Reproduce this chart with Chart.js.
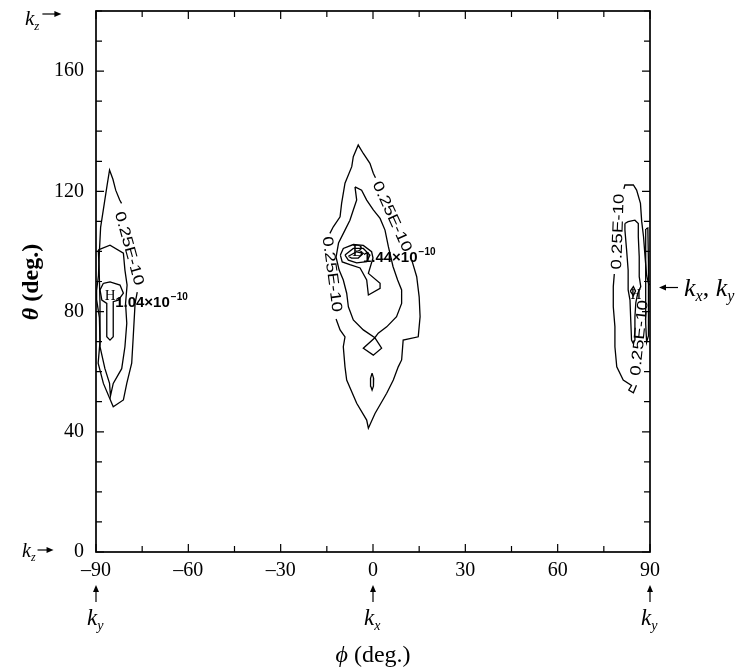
<!DOCTYPE html>
<html>
<head>
<meta charset="utf-8">
<script src="https://cdn.jsdelivr.net/npm/chart.js@4"></script>
<style>
  html, body { margin: 0; padding: 0; background: #fff; }
  canvas { display: block; }
</style>
</head>
<body>
<canvas id="myChart" width="743" height="671"></canvas>
<script>
const ctx = document.getElementById('myChart')

// axis ticks (phi across, theta up)
const phiTicks = [-90, -75, -60, -45, -30, -15, 0, 15, 30, 45, 60, 75, 90]
const phiLabels = ['–90', '', '–60', '', '–30', '', '0', '', '30', '', '60', '', '90']
const thetaTicks = [0, 10, 20, 30, 40, 50, 60, 70, 80, 90, 100, 110, 120, 130, 140, 150, 160, 170, 180]
const thetaLabels = ['0', '', '', '', '40', '', '', '', '80', '', '', '', '120', '', '', '', '160', '', '']

// contour lines, [phi, theta] pairs
const leftOuter = [[-76.6, 86.5], [-77.3, 82.7], [-77.9, 71.6], [-78.4, 62.8], [-80.0, 56.1], [-81.1, 50.6], [-84.4, 48.3],
  [-87.6, 56.1], [-89.3, 62.8], [-88.7, 70], [-88.9, 78], [-89.8, 84], [-89.8, 87], [-89.2, 92], [-88.9, 100],
  [-88.5, 108], [-87.3, 116], [-86.4, 122], [-85.6, 127.1], [-84.5, 124], [-83.6, 120.4], [-82.3, 117.1], [-81.7, 116.0]]
const leftMid = [[-89.25, 100.5], [-85.45, 102.1], [-81.1, 99.4], [-80.6, 93.8], [-79.9, 88.8], [-80.4, 82.7], [-80.0, 76.1],
  [-80.6, 68.3], [-81.65, 61.0], [-84.4, 56.1], [-85.3, 51.9], [-85.6, 56.1], [-87.1, 61.0], [-88.7, 68.3], [-88.7, 82.7],
  [-89.0, 95.0], [-89.25, 100.5]]
const leftCore = [[-87.6, 89.4], [-85.45, 89.9], [-82.2, 88.8], [-81.1, 86.1], [-82.75, 83.8], [-84.4, 83.3], [-84.4, 71.6],
  [-85.45, 70.5], [-86.5, 71.6], [-86.5, 82.7], [-88.1, 83.8], [-88.7, 87.2], [-87.6, 89.4]]

const centerOuterLow = [[12.6, 97.1], [14.2, 91.6], [15.0, 84.9], [15.3, 78.3], [14.7, 71.6], [9.8, 70.5], [9.3, 63.9],
  [8.2, 61.6], [6.6, 57.2], [4.45, 52.8], [0.65, 46.1], [-1.5, 41.2], [-2.05, 43.9], [-5.3, 49.5], [-8.55, 57.2],
  [-9.1, 61.6], [-9.65, 68.3], [-9.1, 71.6], [-10.7, 73.9], [-12.0, 77.5]]
const centerOuterTop = [[-14.0, 106.0], [-12.9, 108.2], [-10.7, 111.5], [-10.2, 116.0], [-9.1, 122.7], [-6.9, 128.2],
  [-6.4, 131.5], [-4.8, 135.4], [-3.15, 132.6], [-1.0, 129.3], [0.1, 126.0], [0.8, 124.5]]
const centerMid = [[-5.85, 121.5], [-3.7, 120.4], [-2.05, 117.1], [0.1, 113.8], [2.3, 111.0], [3.9, 107.1], [5.0, 101.6],
  [6.5, 95.0], [8.0, 90.5], [9.3, 87.2], [9.3, 82.7], [7.65, 78.3], [4.45, 74.9], [1.7, 72.8], [0.6, 71.3],
  [-3.15, 67.8], [0.1, 65.5], [2.8, 67.8], [0.6, 71.3], [-3.15, 73.9], [-6.4, 77.2], [-8.0, 81.6], [-8.55, 86.1],
  [-9.65, 90.5], [-11.0, 93.8], [-12.0, 98.1], [-11.2, 102.8], [-9.1, 107.1], [-7.5, 110.4], [-6.4, 113.8],
  [-5.3, 117.1], [-5.85, 121.5]]
const centerCore = [[-10.6, 98.8], [-9.65, 101.0], [-6.4, 102.3], [-3.15, 102.0], [-0.45, 99.9], [0.0, 97.8], [-1.5, 92.7],
  [2.3, 89.4], [2.3, 87.7], [-1.5, 85.5], [-2.05, 90.5], [-4.2, 94.5], [-7.5, 95.6], [-10.0, 96.5], [-10.6, 98.8]]
const centerRing = [[-9.1, 98.8], [-6.4, 101.0], [-3.15, 101.0], [-1.0, 98.8], [-2.05, 96.6], [-5.3, 96.2], [-8.0, 97.1],
  [-9.1, 98.8]]
const centerEye = [[-8.0, 98.4], [-5.3, 99.9], [-3.15, 99.4], [-4.8, 97.8], [-7.0, 97.8], [-8.0, 98.4]]
const centerDrop = [[-0.3, 59.5], [0.2, 57.8], [0.15, 55.2], [-0.3, 53.9], [-0.75, 55.2], [-0.8, 57.8], [-0.3, 59.5]]

const rightOuterTop = [[81.5, 120.8], [81.85, 122.1], [84.6, 122.1], [85.65, 120.4], [86.9, 116.0], [87.3, 110.0],
  [87.9, 104.9], [88.4, 98.2], [88.9, 92.0], [89.5, 89.4], [90, 88.8]]
const rightOuterLow = [[78.4, 92.5], [78.07, 88.3], [78.07, 81.6], [78.6, 75.0], [78.6, 68.3], [79.2, 61.6], [81.3, 57.2],
  [84.0, 55.4], [83.1, 53.9], [84.6, 53.0], [85.6, 55.5]]
const rightMid = [[81.85, 109.3], [82.9, 109.9], [85.1, 110.4], [86.2, 109.3], [86.2, 104.9], [86.5, 98.2], [86.5, 91.6],
  [87.0, 88.3], [86.0, 86.0], [85.4, 83.0], [85.1, 78.3], [85.1, 70.5], [84.5, 69.5], [84.0, 70.5], [83.7, 78.3],
  [83.5, 83.8], [82.9, 87.2], [82.9, 93.8], [82.4, 100.5], [81.85, 107.1], [81.85, 109.3]]
const rightCore = [[83.6, 86.8], [84.6, 88.3], [85.3, 86.8], [84.6, 85.3], [83.6, 86.8]]
const rightEdge = [[88.7, 107.5], [89.3, 107.8], [89.5, 96], [89.6, 84], [89.4, 72], [88.9, 69.8], [88.6, 76], [88.5, 88],
  [88.6, 100], [88.7, 107.5]]

const contourLines = [leftOuter, leftMid, leftCore, centerOuterLow, centerOuterTop, centerMid, centerCore,
  centerRing, centerEye, centerDrop, rightOuterTop, rightOuterLow, rightMid, rightCore, rightEdge]

// level labels written along the outer contours
const levelText = '0.25E-10'
const levelPhi = [-79.3, 6.1, -13.4, 79.7, 86.7]
const levelTheta = [101.0, 111.6, 92.4, 106.6, 71.2]
const levelAngle = [74.5, 65.6, 82.4, -88, -84]

// maxima
const peakNames = ['H', 'B', 'H']
const peakPhi = [-85.4, -4.9, 85.4]
const peakTheta = [85.1, 100.1, 85.5]
const peakValues = ['1.04', '1.44', '']

const serif = '"Liberation Serif", "Times New Roman", serif'

function drawK(c, x, y, sub, size) {
  c.textAlign = 'left'
  c.textBaseline = 'alphabetic'
  c.font = 'italic ' + size + 'px ' + serif
  c.fillText('k', x, y)
  const w = c.measureText('k').width
  c.font = 'italic ' + Math.round(size * 0.62) + 'px ' + serif
  c.fillText(sub, x + w, y + size * 0.22)
  return x + w + c.measureText(sub).width
}

function arrow(c, x1, y1, x2, y2) {
  const a = Math.atan2(y2 - y1, x2 - x1)
  c.beginPath()
  c.moveTo(x1, y1)
  c.lineTo(x2 - 4 * Math.cos(a), y2 - 4 * Math.sin(a))
  c.stroke()
  c.beginPath()
  c.moveTo(x2, y2)
  c.lineTo(x2 - 7 * Math.cos(a) + 3 * Math.sin(a), y2 - 7 * Math.sin(a) - 3 * Math.cos(a))
  c.lineTo(x2 - 7 * Math.cos(a) - 3 * Math.sin(a), y2 - 7 * Math.sin(a) + 3 * Math.cos(a))
  c.closePath()
  c.fill()
}

const decorations = {
  id: 'decorations',
  afterDraw(chart) {
    const c = chart.ctx
    const { left, right, top, bottom } = chart.chartArea
    const xs = chart.scales.x
    const ys = chart.scales.y
    c.save()
    c.strokeStyle = '#000'
    c.fillStyle = '#000'

    // frame and inward ticks on all four sides
    c.lineWidth = 1.7
    c.strokeRect(left, top, right - left, bottom - top)
    c.lineWidth = 1.2
    c.beginPath()
    phiTicks.forEach((v, i) => {
      const px = xs.getPixelForValue(v)
      const len = phiLabels[i] ? 8 : 6
      c.moveTo(px, bottom); c.lineTo(px, bottom - len)
      c.moveTo(px, top); c.lineTo(px, top + len)
    })
    thetaTicks.forEach((v, i) => {
      const py = ys.getPixelForValue(v)
      const len = thetaLabels[i] ? 8 : 6
      c.moveTo(left, py); c.lineTo(left + len, py)
      c.moveTo(right, py); c.lineTo(right - len, py)
    })
    c.stroke()

    // contour level labels
    levelPhi.forEach((p, i) => {
      c.save()
      c.translate(xs.getPixelForValue(p), ys.getPixelForValue(levelTheta[i]))
      c.rotate(levelAngle[i] * Math.PI / 180)
      c.scale(1.25, 1)
      c.font = '15px "Liberation Sans", Arial, sans-serif'
      c.textAlign = 'center'
      c.textBaseline = 'middle'
      c.fillText(levelText, 0, 0)
      c.restore()
    })

    // maxima letters and values
    peakNames.forEach((name, i) => {
      const px = xs.getPixelForValue(peakPhi[i])
      const py = ys.getPixelForValue(peakTheta[i])
      c.font = (i === 1 ? 17 : 15) + 'px ' + serif
      c.textAlign = 'center'
      c.textBaseline = 'middle'
      c.fillText(name, px, py)
      if (!peakValues[i]) return
      c.textAlign = 'left'
      c.textBaseline = 'alphabetic'
      c.font = 'bold 15px "Liberation Sans", Arial, sans-serif'
      const base = peakValues[i] + '×10'
      const x0 = px + 5
      c.fillText(base, x0, py + 11)
      const w = c.measureText(base).width
      c.font = 'bold 10px "Liberation Sans", Arial, sans-serif'
      c.fillText('−10', x0 + w + 1, py + 4)
    })

    // k direction markers
    c.lineWidth = 1.2
    let xe = drawK(c, 25, top + 14, 'z', 21)
    arrow(c, xe + 3, top + 3, xe + 22, top + 3)
    xe = drawK(c, 22, bottom + 5, 'z', 20)
    arrow(c, xe + 2, bottom - 2, xe + 18, bottom - 2)

    const markers = [[-90, 'y'], [0, 'x'], [90, 'y']]
    markers.forEach(([v, sub]) => {
      const px = xs.getPixelForValue(v)
      arrow(c, px, bottom + 50, px, bottom + 33)
      drawK(c, px - 9, bottom + 73, sub, 23)
    })

    const ky = ys.getPixelForValue(88)
    arrow(c, right + 28, ky, right + 9, ky)
    let kx = drawK(c, right + 34, ky + 8, 'x', 26)
    c.font = '26px ' + serif
    c.fillText(',', kx, ky + 8)
    kx += c.measureText(', ').width
    drawK(c, kx, ky + 8, 'y', 26)

    // axis titles
    c.textBaseline = 'alphabetic'
    c.textAlign = 'left'
    c.save()
    c.translate(38, 282)
    c.rotate(-Math.PI / 2)
    c.font = 'bold italic 24px ' + serif
    const tw = c.measureText('θ').width
    c.font = 'bold 24px ' + serif
    const dw = c.measureText(' (deg.)').width
    c.font = 'bold italic 24px ' + serif
    c.fillText('θ', -(tw + dw) / 2, 0)
    c.font = 'bold 24px ' + serif
    c.fillText(' (deg.)', -(tw + dw) / 2 + tw, 0)
    c.restore()

    c.font = 'italic 24px ' + serif
    const fw = c.measureText('ϕ').width
    c.font = '24px ' + serif
    const gw = c.measureText(' (deg.)').width
    const cx = xs.getPixelForValue(0)
    c.font = 'italic 24px ' + serif
    c.fillText('ϕ', cx - (fw + gw) / 2, 662)
    c.font = '24px ' + serif
    c.fillText(' (deg.)', cx - (fw + gw) / 2 + fw, 662)

    c.restore()
  }
}

const tickFont = { family: 'Liberation Serif', size: 20, lineHeight: 1 }

new Chart(ctx, {
  type: 'scatter',
  data: {
    datasets: contourLines.map(line => ({
      data: line.map(([x, y]) => ({ x, y })),
      showLine: true,
      pointRadius: 0,
      borderColor: '#000',
      borderWidth: 1.3,
      fill: false,
      tension: 0
    }))
  },
  options: {
    responsive: false,
    devicePixelRatio: 1,
    animation: false,
    layout: { padding: { top: 11, right: 93, bottom: 0, left: 0 } },
    plugins: { legend: { display: false }, tooltip: { enabled: false } },
    scales: {
      x: {
        type: 'linear',
        min: -90,
        max: 90,
        afterBuildTicks: s => { s.ticks = phiTicks.map(v => ({ value: v })) },
        afterFit: s => {
          s.height = 119
          s.paddingLeft = 0
          s.paddingRight = 0
        },
        grid: { display: false, drawTicks: false },
        border: { display: false },
        ticks: {
          autoSkip: false,
          maxRotation: 0,
          padding: 9,
          color: '#000',
          font: tickFont,
          callback: (v, i) => phiLabels[i]
        }
      },
      y: {
        type: 'linear',
        min: 0,
        max: 180,
        afterBuildTicks: s => { s.ticks = thetaTicks.map(v => ({ value: v })) },
        afterFit: s => {
          s.width = 96
          s.paddingTop = 0
          s.paddingBottom = 0
        },
        grid: { display: false, drawTicks: false },
        border: { display: false },
        ticks: {
          autoSkip: false,
          padding: 12,
          color: '#000',
          font: tickFont,
          callback: (v, i) => thetaLabels[i]
        }
      }
    }
  },
  plugins: [decorations]
})
</script>
</body>
</html>
